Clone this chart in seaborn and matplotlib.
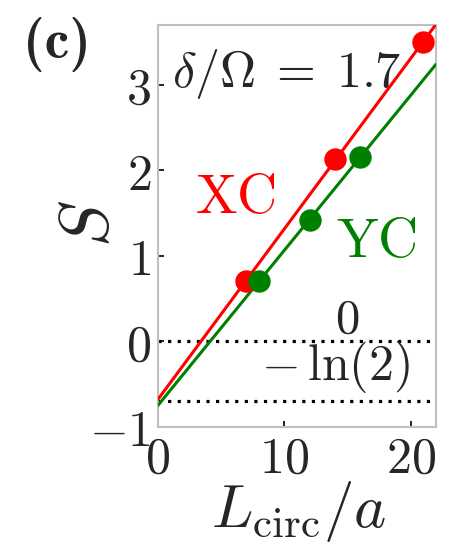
import os
import numpy as np
import pandas as pd
import matplotlib
matplotlib.use("Agg")
import matplotlib.pyplot as plt
from matplotlib.font_manager import FontProperties
import seaborn as sns

# Entanglement entropy vs. circumference for the two cylinder geometries
xc_L = [7, 14, 21]
xc_S = [0.71, 2.13, 3.50]
yc_L = [8, 12, 16]
yc_S = [0.71, 1.415, 2.16]

x_ticks = [0, 10, 20]
y_ticks = [-1, 0, 1, 2, 3]
ref_levels = [0.0, -np.log(2)]

sns.set_style("white")
plt.rcParams["mathtext.fontset"] = "cm"
plt.rcParams["font.family"] = ["DejaVu Serif"]

bold_cm = FontProperties(fname=os.path.join(matplotlib.get_data_path(),
                                            "fonts", "ttf", "cmb10.ttf"),
                         size=40)

xc = pd.DataFrame({"L": xc_L, "S": xc_S})
yc = pd.DataFrame({"L": yc_L, "S": yc_S})

fig = plt.figure(figsize=(4.57, 5.47), dpi=100)
ax = fig.add_axes([0.3457, 0.2194, 0.6083, 0.7349])
ax.set_xlim(0, 22)
ax.set_ylim(-1, 3.7)

for lvl in ref_levels:
    ax.axhline(lvl, color="black", ls=(0, (1, 2.0)), lw=2.3, zorder=1)

for df, col in [(xc, "#ff0000"), (yc, "#008000")]:
    sns.regplot(data=df, x="L", y="S", ax=ax, ci=None, truncate=False,
                color=col,
                scatter_kws={"s": 260, "alpha": 1, "zorder": 4, "linewidths": 0},
                line_kws={"lw": 2.2, "zorder": 3})

ax.set_xlim(0, 22)
ax.set_ylim(-1, 3.7)

ax.set_xticks(x_ticks)
ax.set_xticklabels([f"${t}$" for t in x_ticks])
ax.set_yticks(y_ticks)
ax.set_yticklabels([f"${t}$" if t >= 0 else f"$-{abs(t)}$" for t in y_ticks])
ax.tick_params(axis="both", direction="in", length=4, width=1.2,
               color="black", labelsize=36, pad=5,
               bottom=True, left=True, top=False, right=False)

for sp in ax.spines.values():
    sp.set_color("#c0c0c0")
    sp.set_linewidth(1.5)

ax.set_xlabel(r"$L_{\mathrm{circ}}/a$", fontsize=44)
ax.set_ylabel(r"$S$", fontsize=50)
ax.xaxis.set_label_coords(0.507, -0.13)
ax.yaxis.set_label_coords(-0.13, 0.507)

ax.text(1.1, 2.98, r"$\delta/\Omega\;=\;1.7$", fontsize=36, ha="left", va="baseline")
ax.text(2.94, 1.50, r"$\mathrm{XC}$", fontsize=40, color="#ff0000", ha="left", va="baseline")
ax.text(14.05, 0.99, r"$\mathrm{YC}$", fontsize=40, color="#008000", ha="left", va="baseline")
ax.text(15.0, 0.10, r"$0$", fontsize=35, ha="center", va="baseline")
ax.text(14.05, -0.45, r"$-\,\ln(2)$", fontsize=36, ha="center", va="baseline")

fig.text(0.05, 0.894, "(c)", fontproperties=bold_cm, ha="left", va="baseline")

fig.savefig("out.png", dpi=100)
